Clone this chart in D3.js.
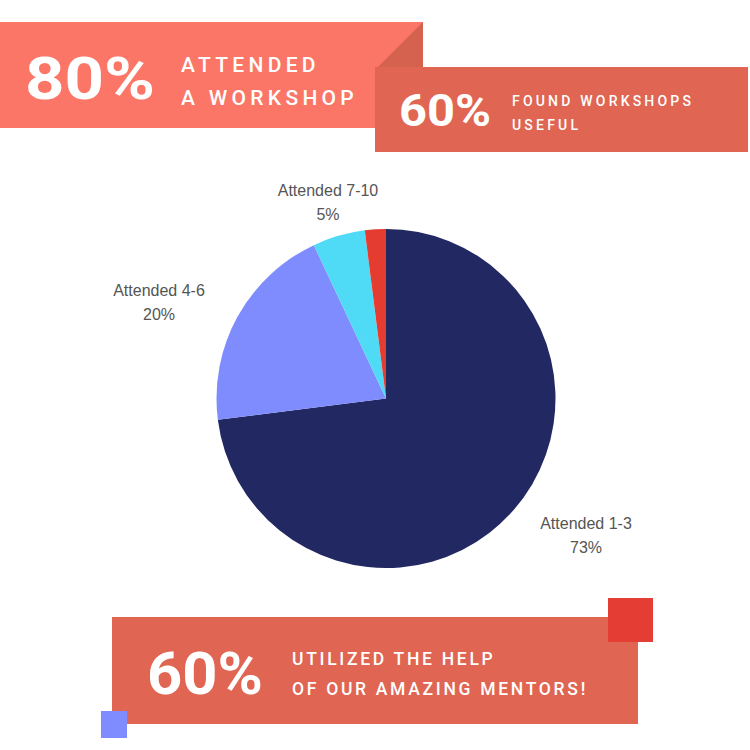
<!DOCTYPE html>
<html><head><meta charset="utf-8">
<script src="https://cdn.jsdelivr.net/npm/d3@7"></script>
<style>html,body{margin:0;padding:0;background:#fff;}svg{display:block;}</style>
</head><body>
<script>
const categories = ["Attended 1-3", "Attended 4-6", "Attended 7-10", "Other"];
const values = [73, 20, 5, 2];
const labels = ["Attended 1-3", "Attended 4-6", "Attended 7-10", ""];
const pctLabels = ["73%", "20%", "5%", ""];
const colors = ["#212862", "#7f8cfd", "#4fdaf6", "#e53c31"];

const W = 750, H = 750;
const svg = d3.select("body").append("svg").attr("width", W).attr("height", H);
const capFont = "Roboto, 'Open Sans', sans-serif";

// Top banner
svg.append("rect").attr("x", 0).attr("y", 22).attr("width", 423).attr("height", 106).attr("fill", "#fb7667");
svg.append("path").attr("d", "M423,22 L423,67 L378,67 Z").attr("fill", "#d4624f");
svg.append("text").attr("x", 25).attr("y", 99).attr("font-family", capFont).attr("font-weight", 700)
  .attr("font-size", 60).attr("textLength", 130).attr("lengthAdjust", "spacingAndGlyphs")
  .attr("fill", "#fff").text("80%");
svg.append("text").attr("x", 181).attr("y", 72).attr("font-family", capFont).attr("font-weight", 500)
  .attr("font-size", 21).attr("letter-spacing", 4.3).attr("fill", "#fff").text("ATTENDED");
svg.append("text").attr("x", 181).attr("y", 105).attr("font-family", capFont).attr("font-weight", 500)
  .attr("font-size", 21).attr("letter-spacing", 4.3).attr("fill", "#fff").text("A WORKSHOP");

// Second banner
svg.append("rect").attr("x", 375).attr("y", 67).attr("width", 373).attr("height", 85).attr("fill", "#e06552");
svg.append("text").attr("x", 399).attr("y", 126).attr("font-family", capFont).attr("font-weight", 700)
  .attr("font-size", 45).attr("textLength", 92).attr("lengthAdjust", "spacingAndGlyphs")
  .attr("fill", "#fff").text("60%");
svg.append("text").attr("x", 512).attr("y", 106).attr("font-family", capFont).attr("font-weight", 500)
  .attr("font-size", 14).attr("letter-spacing", 3.2).attr("fill", "#fff").text("FOUND WORKSHOPS");
svg.append("text").attr("x", 512).attr("y", 130).attr("font-family", capFont).attr("font-weight", 500)
  .attr("font-size", 14).attr("letter-spacing", 3.2).attr("fill", "#fff").text("USEFUL");

// Pie
const cx = 386, cy = 398.5, r = 169.5;
const pie = d3.pie().sort(null).value(d => d)(values);
const arc = d3.arc().innerRadius(0).outerRadius(r);
const g = svg.append("g").attr("transform", `translate(${cx},${cy})`);
g.selectAll("path").data(pie).enter().append("path").attr("d", arc).attr("fill", (d, i) => colors[i]);

const labelPos = [[586, 529], [159, 296], [328, 196]];
labelPos.forEach((p, i) => {
  svg.append("text").attr("x", p[0]).attr("y", p[1]).attr("text-anchor", "middle")
    .attr("font-family", "'Liberation Sans', Arial, sans-serif").attr("font-size", 16).attr("fill", "#555")
    .text(labels[i]);
  svg.append("text").attr("x", p[0]).attr("y", p[1] + 24).attr("text-anchor", "middle")
    .attr("font-family", "'Liberation Sans', Arial, sans-serif").attr("font-size", 16).attr("fill", "#555")
    .text(pctLabels[i]);
});

// Bottom banner
svg.append("rect").attr("x", 112).attr("y", 617).attr("width", 526).attr("height", 107).attr("fill", "#e06552");
svg.append("rect").attr("x", 608).attr("y", 598).attr("width", 45).attr("height", 44).attr("fill", "#e43d33");
svg.append("rect").attr("x", 101).attr("y", 711).attr("width", 26).attr("height", 27).attr("fill", "#7f8cff");
svg.append("text").attr("x", 147).attr("y", 694).attr("font-family", capFont).attr("font-weight", 700)
  .attr("font-size", 60).attr("textLength", 116).attr("lengthAdjust", "spacingAndGlyphs")
  .attr("fill", "#fff").text("60%");
svg.append("text").attr("x", 292).attr("y", 665).attr("font-family", capFont).attr("font-weight", 500)
  .attr("font-size", 17.5).attr("letter-spacing", 2.7).attr("fill", "#fff").text("UTILIZED THE HELP");
svg.append("text").attr("x", 292).attr("y", 695).attr("font-family", capFont).attr("font-weight", 500)
  .attr("font-size", 17.5).attr("letter-spacing", 2.7).attr("fill", "#fff").text("OF OUR AMAZING MENTORS!");
</script>
</body></html>
